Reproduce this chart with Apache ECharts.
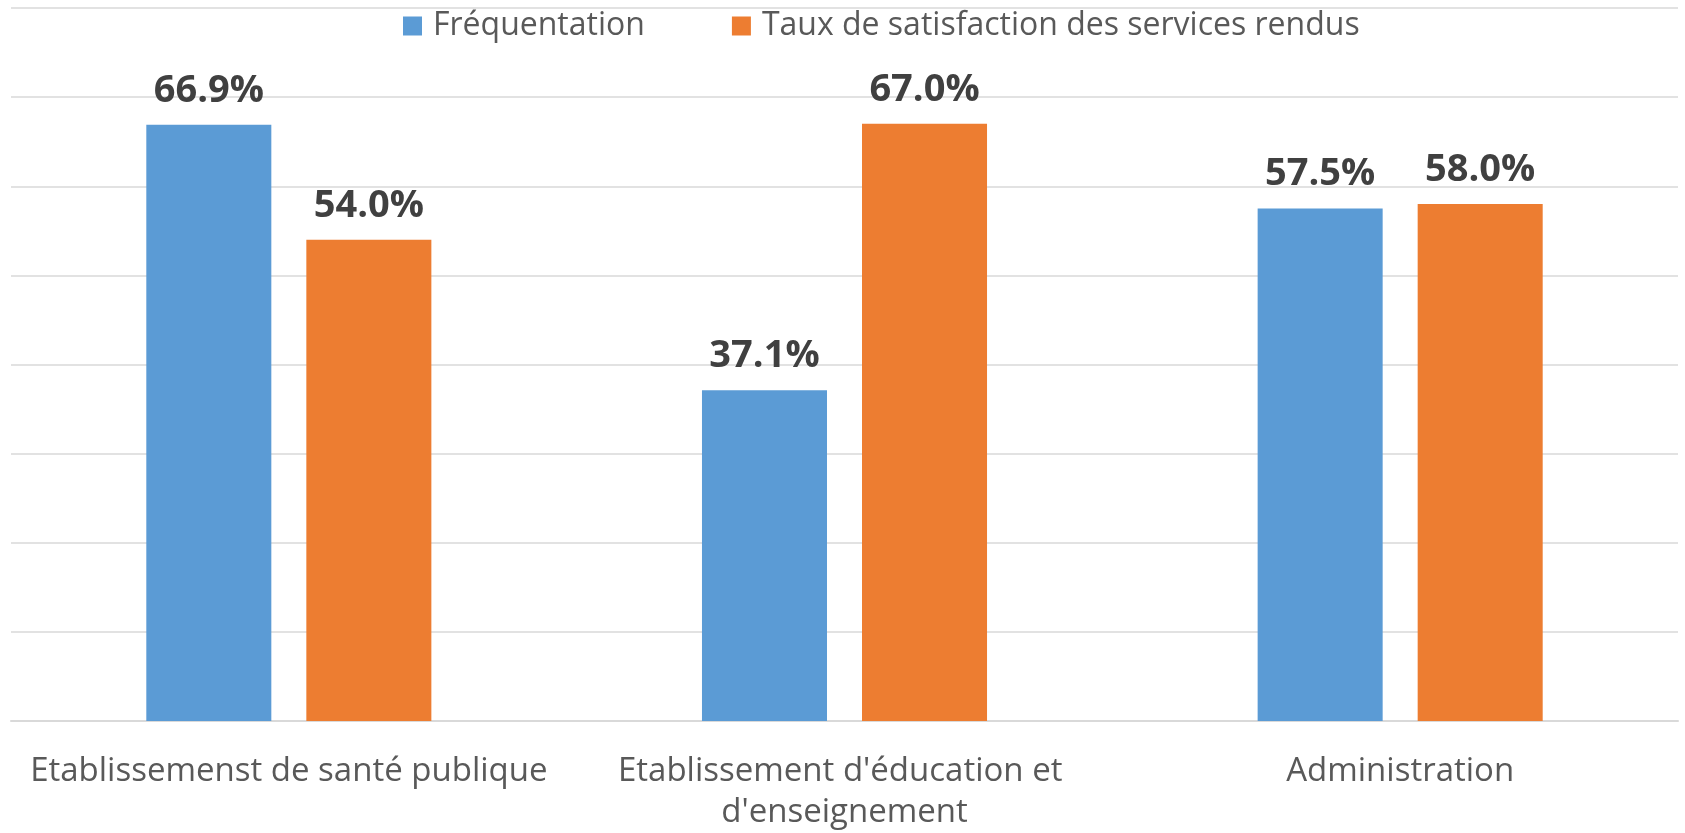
<!DOCTYPE html>
<html>
<head>
<meta charset="utf-8">
<title>Fréquentation et satisfaction</title>
<script src="https://cdn.jsdelivr.net/npm/echarts@6/dist/echarts.min.js"></script>
<style>
    html, body { margin: 0; padding: 0; background: #fff; }
    #chart { width: 1685px; height: 833px; }
</style>
</head>
<body>
<div id="chart"></div>
<script>
// categories and values (percent)
const categories = [
    'Etablissemenst de santé publique',
    "Etablissement d'éducation et d'enseignement",
    'Administration'
];
const seriesNames = ['Fréquentation', 'Taux de satisfaction des services rendus'];
const frequentation = [66.9, 37.1, 57.5];
const satisfaction = [54.0, 67.0, 58.0];

const chart = echarts.init(document.getElementById('chart'));

const labelStyle = {
    show: true,
    position: 'top',
    distance: 15,
    color: '#404040',
    fontFamily: 'Open Sans',
    fontWeight: 'bold',
    fontSize: 38,
    formatter: p => p.value.toFixed(1) + '%'
};

chart.setOption({
    color: ['#5B9BD5', '#ED7D31'],
    animation: false,
    textStyle: {
        fontFamily: 'Open Sans'
    },

    grid: {
        left: 11,
        right: 7,
        top: 8,
        bottom: 112,
        containLabel: false
    },

    legend: {
        data: seriesNames,
        top: 5,
        left: 398,
        itemWidth: 19,
        itemHeight: 19,
        itemGap: 87,
        icon: 'rect',
        textStyle: {
            color: '#595959',
            fontSize: 32,
            padding: [0, 0, 0, 6]
        }
    },

    xAxis: {
        type: 'category',
        data: categories,
        axisTick: { show: false },
        axisLine: {
            lineStyle: { color: '#D9D9D9', width: 2 }
        },
        axisLabel: {
            color: '#595959',
            fontSize: 33,
            lineHeight: 41,
            margin: 30,
            width: 556,
            overflow: 'break',
            interval: 0
        }
    },

    yAxis: {
        type: 'value',
        min: 0,
        max: 80,
        interval: 10,
        axisLabel: { show: false },
        axisLine: { show: false },
        axisTick: { show: false },
        splitLine: {
            lineStyle: { color: '#D9D9D9', width: 1.5 }
        }
    },

    series: [
        {
            name: seriesNames[0],
            type: 'bar',
            data: frequentation,
            barWidth: '22.5%',
            barGap: '28%',
            label: labelStyle
        },
        {
            name: seriesNames[1],
            type: 'bar',
            data: satisfaction,
            barWidth: '22.5%',
            label: labelStyle
        }
    ]
});
</script>
</body>
</html>
